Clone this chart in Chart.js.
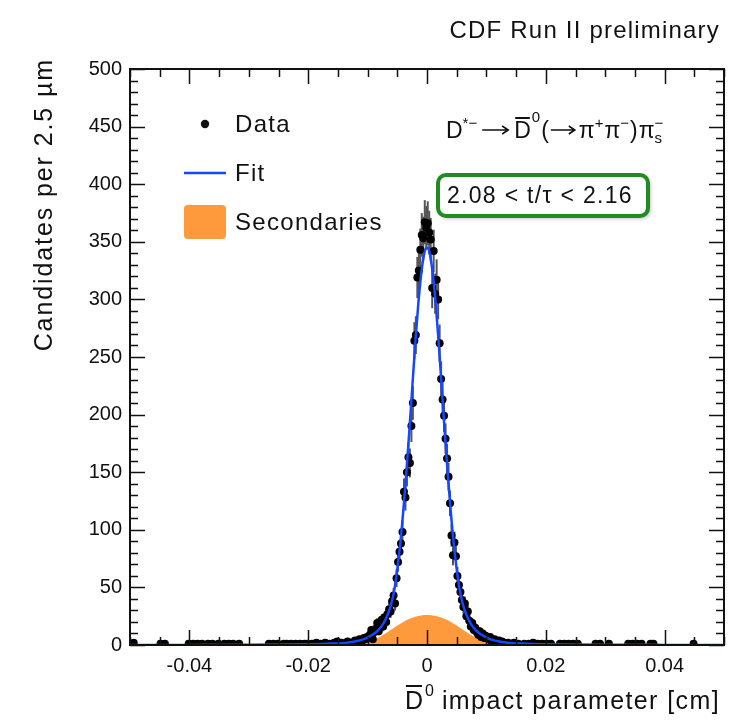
<!DOCTYPE html>
<html>
<head>
<meta charset="utf-8">
<script src="https://cdn.jsdelivr.net/npm/chart.js@4.4.1/dist/chart.umd.min.js"></script>
<style>
    html, body { margin: 0; padding: 0; background: #fff; }
    #wrap { width: 729px; height: 720px; }
</style>
</head>
<body>
<div id="wrap"><canvas id="ipChart" width="729" height="720"></canvas></div>
<script>
// ===== Data =====
// bin centres [cm] of the filled 2.5 um bins and their candidate counts
const binCenters = [
    -0.049375, -0.044875, -0.044125, -0.040125, -0.039375, -0.038625, -0.037875, -0.036875, -0.036125, -0.035125,
    -0.034125, -0.033375, -0.032625, -0.031625, -0.026625, -0.025875, -0.025125, -0.024125, -0.023625, -0.022875,
    -0.022125, -0.021375, -0.020625, -0.020125, -0.019375, -0.018625, -0.017875, -0.017125, -0.016375, -0.015625,
    -0.015125, -0.014375, -0.013875, -0.013375, -0.012875, -0.012625, -0.012125, -0.011875, -0.011375, -0.011125,
    -0.010875, -0.010625, -0.010375, -0.010125,
    -0.009875, -0.009625, -0.009375, -0.009125, -0.008875, -0.008625, -0.008375, -0.008125, -0.007875, -0.007625,
    -0.007375, -0.007125, -0.006875, -0.006625, -0.006375, -0.006125, -0.005875, -0.005625, -0.005375, -0.005125,
    -0.004875, -0.004625, -0.004375, -0.004125, -0.003875, -0.003625, -0.003375, -0.003125, -0.002875, -0.002625,
    -0.002375, -0.002125, -0.001875, -0.001625, -0.001375, -0.001125, -0.000875, -0.000625, -0.000375, -0.000125,
    0.000125, 0.000375, 0.000625, 0.000875, 0.001125, 0.001375, 0.001625, 0.001875, 0.002125, 0.002375,
    0.002625, 0.002875, 0.003125, 0.003375, 0.003625, 0.003875, 0.004125, 0.004375, 0.004625, 0.004875,
    0.005125, 0.005375, 0.005625, 0.005875, 0.006125, 0.006375, 0.006625, 0.006875, 0.007125, 0.007375,
    0.007625, 0.007875, 0.008125, 0.008375, 0.008625, 0.008875, 0.009125, 0.009375, 0.009625, 0.009875,
    0.010125, 0.010375, 0.010625, 0.010875, 0.011125, 0.011375, 0.011625, 0.011875, 0.012125, 0.012375,
    0.012625, 0.012875, 0.013125, 0.013625, 0.014125, 0.014625, 0.015375, 0.016375, 0.017125, 0.017875,
    0.018625, 0.019375, 0.020125, 0.020875, 0.022375, 0.023125, 0.023875, 0.024625, 0.025375, 0.028375,
    0.029125, 0.030625, 0.033875, 0.034625, 0.035375, 0.036125, 0.037625, 0.038125, 0.044875
];
const counts = [
    2, 1, 1, 1, 1, 1, 1, 1, 1, 1,
    1, 1, 1, 1, 1, 1, 1, 1, 1, 1,
    1, 1, 1, 1, 1, 2, 1, 2, 1, 2,
    3, 2, 1, 3, 2, 2, 4, 3, 5, 2,
    4, 6, 5, 7,
    6, 9, 13, 5, 11, 14, 19, 12, 17, 22,
    16, 24, 20, 27, 31, 29, 38, 43, 36, 58,
    72, 81, 88, 98, 133, 128, 150, 163, 158, 190,
    210, 264, 269, 319, 325, 343, 356, 353, 367, 362,
    366, 358, 352, 310, 342, 305, 317, 300, 262, 231,
    213, 199, 179, 162, 146, 123, 95, 78, 89, 77,
    60, 52, 46, 39, 33, 36, 25, 29, 21, 16,
    19, 13, 15, 11, 9, 12, 7, 10, 6, 8,
    6, 5, 7, 3, 4, 5, 2, 3, 4, 2,
    3, 1, 2, 2, 1, 2, 1, 1, 1, 2,
    1, 1, 1, 1, 1, 1, 1, 1, 1, 1,
    1, 1, 1, 1, 1, 1, 1, 1, 1
];

// fit curve
const fitX = [
    -0.05, -0.04, -0.03, -0.025, -0.02, -0.018, -0.016, -0.014, -0.013, -0.012, -0.011, -0.01,
    -0.009, -0.0085, -0.008, -0.0075, -0.007, -0.0065, -0.006, -0.0055, -0.005, -0.0045, -0.004,
    -0.0035, -0.003, -0.0025, -0.002, -0.0015, -0.001, -0.0005, 0,
    0.0005, 0.001, 0.0015, 0.002, 0.0025, 0.003, 0.0035, 0.004, 0.0045, 0.005, 0.0055, 0.006,
    0.0065, 0.007, 0.0075, 0.008, 0.0085, 0.009, 0.01, 0.011, 0.012, 0.013, 0.014, 0.016, 0.018,
    0.02, 0.025, 0.03, 0.04, 0.05
];
const fitY = [
    0.05, 0.1, 0.2, 0.35, 0.6, 0.8, 1.2, 1.8, 2.4, 3.2, 4.5, 6.5,
    9.5, 11.5, 14, 17.5, 22, 28, 36, 48, 66, 88, 116,
    148, 184, 222, 260, 294, 321, 339, 345,
    339, 321, 294, 260, 222, 184, 148, 116, 88, 66, 48, 36,
    28, 22, 17.5, 14, 11.5, 9.5, 6.5, 4.5, 3.2, 2.4, 1.8, 1.2, 0.8,
    0.6, 0.35, 0.2, 0.1, 0.05
];

// secondaries component
const secX = [-0.013, -0.012, -0.011, -0.01, -0.009, -0.008, -0.007, -0.006, -0.005, -0.004, -0.003, -0.002, -0.001, 0,
              0.001, 0.002, 0.003, 0.004, 0.005, 0.006, 0.007, 0.008, 0.009, 0.01, 0.011, 0.012, 0.013];
const secY = [0, 0.5, 1.2, 2.5, 4.5, 7, 10, 13.5, 17, 20, 22.5, 24.5, 25.6, 26,
              25.6, 24.5, 22.5, 20, 17, 13.5, 10, 7, 4.5, 2.5, 1.2, 0.5, 0];

const xTickValues = [-0.04, -0.02, 0, 0.02, 0.04];
const yTickValues = [0, 50, 100, 150, 200, 250, 300, 350, 400, 450, 500];

// ===== Styling =====
const FONT = "'Liberation Sans', Arial, Helvetica, sans-serif";
const BLUE = '#1447ff';
const ORANGE = '#ff9a3c';
const GREEN = '#1e8c1e';

function toPoints(xs, ys) {
    return xs.map((x, i) => ({ x: x, y: ys[i] }));
}

// little arrow like the TLatex \rightarrow
function drawArrow(ctx, x, y, len) {
    ctx.save();
    ctx.strokeStyle = '#111';
    ctx.lineWidth = 1.6;
    ctx.beginPath();
    ctx.moveTo(x, y); ctx.lineTo(x + len, y);
    ctx.moveTo(x + len - 6, y - 4); ctx.lineTo(x + len, y); ctx.lineTo(x + len - 6, y + 4);
    ctx.stroke();
    ctx.restore();
}

// ===== Decorations: error bars, ticks, frame, texts =====
const decorPlugin = {
    id: 'decor',
    beforeDatasetDraw(chart, args) {
        if (args.index !== 1) return;
        const ctx = chart.ctx;
        const xs = chart.scales.x, ys = chart.scales.y;
        const area = chart.chartArea;
        ctx.save();
        ctx.beginPath();
        ctx.rect(area.left, area.top, area.right - area.left, area.bottom - area.top);
        ctx.clip();
        ctx.strokeStyle = '#555';
        ctx.lineWidth = 2;
        binCenters.forEach((x, i) => {
            const n = counts[i];
            const err = Math.sqrt(n);
            const px = xs.getPixelForValue(x);
            ctx.beginPath();
            ctx.moveTo(px, ys.getPixelForValue(n - err));
            ctx.lineTo(px, ys.getPixelForValue(n + err));
            ctx.stroke();
        });
        ctx.restore();
    },
    afterDatasetsDraw(chart) {
        const ctx = chart.ctx;
        const xs = chart.scales.x, ys = chart.scales.y;
        const a = chart.chartArea;
        ctx.save();
        ctx.strokeStyle = '#111';
        ctx.lineWidth = 1.5;
        // y ticks every 10, long every 50
        for (let v = 0; v <= 500; v += 10) {
            const py = Math.round(ys.getPixelForValue(v)) + 0.5;
            const len = v % 50 === 0 ? 15 : 8;
            ctx.beginPath();
            ctx.moveTo(a.left, py); ctx.lineTo(a.left + len, py);
            ctx.moveTo(a.right, py); ctx.lineTo(a.right - len, py);
            ctx.stroke();
        }
        // x ticks every 0.005, long every 0.02
        for (let k = -10; k <= 10; k++) {
            const px = Math.round(xs.getPixelForValue(k * 0.005)) + 0.5;
            const len = k % 4 === 0 ? 15 : 8;
            ctx.beginPath();
            ctx.moveTo(px, a.bottom); ctx.lineTo(px, a.bottom - len);
            ctx.moveTo(px, a.top); ctx.lineTo(px, a.top + len);
            ctx.stroke();
        }
        ctx.lineWidth = 2;
        ctx.strokeRect(a.left, a.top, a.right - a.left, a.bottom - a.top);
        ctx.restore();
    },
    afterDraw(chart) {
        const ctx = chart.ctx;
        ctx.save();
        ctx.fillStyle = '#111';
        ctx.textBaseline = 'alphabetic';

        // title
        ctx.font = '24px ' + FONT;
        ctx.letterSpacing = '1.2px';
        ctx.textAlign = 'right';
        ctx.fillText('CDF Run II preliminary', 720, 38);

        // y axis title
        ctx.save();
        ctx.translate(52, 58);
        ctx.rotate(-Math.PI / 2);
        ctx.font = '25px ' + FONT;
        ctx.letterSpacing = '1.9px';
        ctx.textAlign = 'right';
        ctx.fillText('Candidates per 2.5 \u00b5m', 0, 0);
        ctx.restore();

        // x axis title with D-bar^0
        ctx.font = '25px ' + FONT;
        ctx.letterSpacing = '1.4px';
        ctx.textAlign = 'left';
        const xt = 'impact parameter [cm]';
        const xtW = ctx.measureText(xt).width;
        const xtStart = 720 - xtW;
        ctx.fillText(xt, xtStart, 709);
        const dW = ctx.measureText('D').width - 1.4;
        const dX = xtStart - 37;
        ctx.fillText('D', dX, 709);
        ctx.fillRect(dX + 1, 685, dW - 2, 2);
        ctx.font = '16px ' + FONT;
        ctx.fillText('0', dX + dW + 2, 696);

        // legend
        ctx.font = '24px ' + FONT;
        ctx.letterSpacing = '1.3px';
        ctx.textBaseline = 'middle';
        ctx.beginPath();
        ctx.arc(205, 124, 4.2, 0, Math.PI * 2);
        ctx.fill();
        ctx.fillText('Data', 235, 125);
        ctx.strokeStyle = BLUE;
        ctx.lineWidth = 2.5;
        ctx.beginPath();
        ctx.moveTo(184, 173); ctx.lineTo(226, 173);
        ctx.stroke();
        ctx.fillText('Fit', 235, 174);
        ctx.fillStyle = ORANGE;
        ctx.beginPath();
        ctx.roundRect(184, 205, 42, 34, 4);
        ctx.fill();
        ctx.fillStyle = '#111';
        ctx.fillText('Secondaries', 235, 223);

        // decay formula
        ctx.textBaseline = 'alphabetic';
        ctx.letterSpacing = '0px';
        const big = '23px ' + FONT, small = '15px ' + FONT;
        let x = 446;
        const base = 138;
        function put(txt, font, dy) {
            ctx.font = font;
            ctx.fillText(txt, x, base + dy);
            const w = ctx.measureText(txt).width;
            x += w;
            return w;
        }
        put('D', big, 0);
        put('*\u2212', small, -10);
        x += 5;
        drawArrow(ctx, x, base - 8, 26);
        x += 32;
        const dbX = x;
        const dbW = put('D', big, 0);
        ctx.fillRect(dbX + 1, base - 21, dbW - 2, 2);
        x += 1;
        put('0', small, -16);
        x += 1;
        put('(', big, 0);
        drawArrow(ctx, x + 2, base - 8, 24);
        x += 30;
        put('\u03c0', big, 0);
        put('+', small, -10);
        x += 1;
        put('\u03c0', big, 0);
        put('\u2212', small, -10);
        x += 1;
        put(')', big, 0);
        x += 1;
        put('\u03c0', big, 0);
        const sX = x;
        put('s', small, 5);
        x = sX;
        put('\u2212', small, -10);

        // t/tau window box
        ctx.save();
        ctx.shadowColor = 'rgba(0,0,0,0.35)';
        ctx.shadowBlur = 4;
        ctx.shadowOffsetX = 2;
        ctx.shadowOffsetY = 2;
        ctx.fillStyle = '#fff';
        ctx.beginPath();
        ctx.roundRect(438, 175, 210, 41, 8);
        ctx.fill();
        ctx.restore();
        ctx.strokeStyle = GREEN;
        ctx.lineWidth = 4;
        ctx.beginPath();
        ctx.roundRect(438, 175, 210, 41, 8);
        ctx.stroke();
        ctx.fillStyle = '#111';
        ctx.font = '23px ' + FONT;
        ctx.letterSpacing = '1.3px';
        ctx.textBaseline = 'middle';
        ctx.fillText('2.08 < t/\u03c4 < 2.16', 447, 197);

        ctx.restore();
    }
};

// ===== Chart =====
const ctx = document.getElementById('ipChart');
new Chart(ctx, {
    type: 'line',
    data: {
        datasets: [
            {
                label: 'Secondaries',
                data: toPoints(secX, secY),
                backgroundColor: ORANGE,
                borderWidth: 0,
                pointRadius: 0,
                fill: 'origin',
                cubicInterpolationMode: 'monotone',
                order: 3
            },
            {
                label: 'Data',
                data: toPoints(binCenters, counts),
                showLine: false,
                pointRadius: 4,
                pointBackgroundColor: '#000',
                pointBorderWidth: 0,
                order: 2
            },
            {
                label: 'Fit',
                data: toPoints(fitX, fitY),
                borderColor: BLUE,
                borderWidth: 2.5,
                pointRadius: 0,
                fill: false,
                cubicInterpolationMode: 'monotone',
                order: 1
            }
        ]
    },
    options: {
        responsive: false,
        devicePixelRatio: 1,
        animation: false,
        layout: { padding: { top: 69, right: 5, left: 0, bottom: 0 } },
        plugins: {
            legend: { display: false },
            tooltip: { enabled: false }
        },
        scales: {
            x: {
                type: 'linear',
                min: -0.05,
                max: 0.05,
                grid: { display: false, drawTicks: false },
                border: { display: false },
                afterBuildTicks: (s) => { s.ticks = xTickValues.map(v => ({ value: v })); },
                afterFit: (s) => { s.height = 75; },
                ticks: {
                    padding: 9,
                    color: '#111',
                    font: { family: FONT, size: 20 },
                    maxRotation: 0,
                    callback: (v) => (v === 0 ? '0' : String(Math.round(v * 100) / 100))
                }
            },
            y: {
                type: 'linear',
                min: 0,
                max: 500,
                grid: { display: false, drawTicks: false },
                border: { display: false },
                afterBuildTicks: (s) => { s.ticks = yTickValues.map(v => ({ value: v })); },
                afterFit: (s) => { s.width = 130; },
                ticks: {
                    padding: 8,
                    color: '#111',
                    font: { family: FONT, size: 20 }
                }
            }
        }
    },
    plugins: [decorPlugin]
});
</script>
</body>
</html>
